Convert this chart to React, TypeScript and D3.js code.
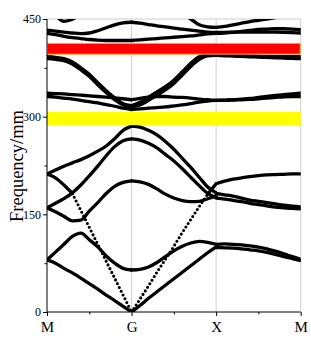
import React, { useEffect, useRef } from "react";
import * as d3 from "d3";

const W = 311;
const H = 343;
const serif = "'Liberation Serif', 'Times New Roman', serif";

// high-symmetry points and axis ticks
const pathLabels = ["M", "G", "X", "M"];
const pathTicks = [0, 1, 2, 3];
const pathMinorTicks = [0.5, 1.5, 2.5];
const yTicks = [0, 150, 300, 450];
const yMinorTicks = [75, 225, 375];

// reduced wave vector along each segment
const kSteps = [0, 0.1, 0.2, 0.3, 0.4, 0.5, 0.6, 0.7, 0.8, 0.9, 1];

type Band = (number | null)[];
const _ = null;

// M -> G
const solidMG: Band[] = [
  [80, 75, 67, 60, 52, 43.5, 35, 26, 17.5, 8.8, 0],
  [80, 92, 104, 116, 121, 111, 100, 86, 75, 67, 64.5],
  [160, 154, 147, 140, 141, 155, 168, 182, 193, 199, 201.5],
  [160, 167, 174, 183, 195, 209, 224, 240, 254, 263, 266],
  [212, 218, 224, 229, 234, 240, 247, 255, 266, 279, 285.5],
  [212, 206, 195, 182, _, _, _, _, _, _, _],
  [336, 335.5, 335, 334, 333, 332, 331, 330, 329, 327.5, 326],
  [331, 330, 328.5, 327, 325, 323, 321, 318.5, 316, 313, 311],
  [392, 391, 389, 384, 375, 365, 352, 340, 329, 320, 317],
  [389, 388, 386, 381, 372, 362, 349, 337, 326, 318, 315],
  [433, 431.5, 430, 428.5, 427.5, 428.5, 432, 436.5, 441, 444, 445],
  [428, 426, 423.5, 421.5, 420, 418.5, 417.5, 417, 417, 417, 417],
  [_, 456, 446.5, 449.5, 458, _, _, _, _, _, _],
];
const dottedMG: Band[] = [
  [_, _, _, 182, 156, 130, 104, 78, 52, 26, 0],
];

// G -> X
const solidGX: Band[] = [
  [0, 10, 21, 31, 41, 51, 61, 71, 81, 91, 100],
  [64.5, 65.5, 69, 76, 85, 94, 101, 106, 108.5, 107, 104],
  [_, _, _, _, _, _, _, _, _, 181, 197],
  [201.5, 200, 196, 189, 181, 175, 171, 169.5, 170, 174, 178],
  [285.5, 284, 279, 272, 262, 250, 236, 222, 207, 192, 183],
  [266, 264, 259, 252, 242, 232, 220, 207, 194, 182, 176],
  [326, 328, 330, 331, 331, 330, 329.5, 328.5, 327, 326, 325],
  [311, 312, 313, 314, 315, 316.5, 318, 320, 322.5, 324, 325],
  [317, 322, 330, 338, 346, 356, 369, 382, 392, 395, 395],
  [315, 318, 325, 333, 341, 351, 364, 377, 388, 393.5, 394],
  [445, 443.5, 441.5, 439.5, 438, 436, 434.5, 433, 431.5, 430, 429.5],
  [417, 418, 419, 420, 421, 422, 423, 424, 425.5, 427, 428],
  [_, _, _, _, _, 466, 458, 450, 441, 438, 437],
];
const dottedGX: Band[] = [
  [0, 20, 40, 61, 81, 101, 122, 142, 162, 181, _],
];

// X -> M
const solidXM: Band[] = [
  [104, 104.5, 104, 103, 101.5, 99.5, 97, 93.5, 89.5, 85, 81],
  [99, 98.5, 98, 97, 95.5, 94, 91.5, 88.5, 85, 82, 79],
  [197, 201, 204, 206, 208, 209.5, 210.5, 211, 211.5, 212, 212],
  [182, 180, 178, 175, 172, 170, 168, 166, 164, 162.5, 161.5],
  [175, 173.5, 171.5, 169.5, 167, 165, 163, 161, 160, 159, 158.5],
  [325, 325.5, 326, 327, 328, 329.5, 331, 332.5, 334, 335, 336],
  [325, 325, 325.5, 326, 326.5, 327.5, 328.5, 329.5, 330.5, 331, 331],
  [395, 395, 394.5, 394, 393.5, 393, 392.5, 392, 392, 392, 392],
  [394, 393.5, 393, 392.5, 392, 391.5, 391, 390.5, 390, 389.5, 389],
  [429.5, 429.6, 429.8, 430, 430, 430, 430, 429.8, 429.5, 429, 428.5],
  [428, 428.5, 429.5, 431, 432.5, 434, 434.5, 435, 435, 434.5, 433.5],
  [437, 438.5, 441, 443.5, 446, 448, 450, 452, 454, 456, 458],
];

const segments = [
  { start: 0, solid: solidMG, dotted: dottedMG },
  { start: 1, solid: solidGX, dotted: dottedGX },
  { start: 2, solid: solidXM, dotted: [] as Band[] },
];

// band gaps marked on the chart
const redGap = [396, 412.5];
const yellowGap = [287, 307.5];

const App = () => {
  const ref = useRef<SVGSVGElement>(null);

  useEffect(() => {
    const svg = d3.select(ref.current);
    svg.selectAll("*").remove();

    const margin = { top: 19, left: 47, bottom: 31, right: 10.3 };
    const iw = W - margin.left - margin.right;
    const ih = H - margin.top - margin.bottom;

    const x = d3.scaleLinear().domain([0, 3]).range([0, iw]);
    const y = d3.scaleLinear().domain([0, 450]).range([ih, 0]);

    const g = svg.append("g").attr("transform", `translate(${margin.left},${margin.top})`);

    svg.append("defs").append("clipPath").attr("id", "plot-clip")
      .append("rect").attr("width", iw).attr("height", ih);

    // frame: light top / right and gridlines at G, X
    const grey = "#cfcfcf";
    g.append("line").attr("x1", 0).attr("x2", iw).attr("y1", 0).attr("y2", 0).attr("stroke", grey);
    g.append("line").attr("x1", iw).attr("x2", iw).attr("y1", 0).attr("y2", ih).attr("stroke", grey);
    g.selectAll(".vgrid").data([1, 2]).enter().append("line")
      .attr("x1", d => x(d)).attr("x2", d => x(d))
      .attr("y1", 0).attr("y2", ih).attr("stroke", grey);

    // bands
    const line = d3.line<[number, number | null]>()
      .defined(d => d[1] != null)
      .x(d => x(d[0]))
      .y(d => y(d[1] as number))
      .curve(d3.curveMonotoneX);

    const bands = g.append("g").attr("clip-path", "url(#plot-clip)");
    segments.forEach(seg => {
      const toPts = (b: Band) => kSteps.map((t, i) => [seg.start + t, b[i]] as [number, number | null]);
      seg.solid.forEach(b => {
        bands.append("path").attr("d", line(toPts(b)))
          .attr("fill", "none").attr("stroke", "#000").attr("stroke-width", 3.3)
          .attr("stroke-linecap", "round").attr("stroke-linejoin", "round");
      });
      seg.dotted.forEach(b => {
        bands.append("path").attr("d", line(toPts(b)))
          .attr("fill", "none").attr("stroke", "#000").attr("stroke-width", 3.1)
          .attr("stroke-linecap", "round").attr("stroke-dasharray", "0 4.2");
      });
    });

    // gaps
    g.append("rect").attr("x", 0).attr("width", iw)
      .attr("y", y(yellowGap[1])).attr("height", y(yellowGap[0]) - y(yellowGap[1]))
      .attr("fill", "#ffff00");
    g.append("rect").attr("x", 0.5).attr("width", iw - 1)
      .attr("y", y(redGap[1])).attr("height", y(redGap[0]) - y(redGap[1]))
      .attr("fill", "#ff0000").attr("stroke", "#f5a623").attr("stroke-width", 1);

    // axes
    const yAxis = g.append("g").call(
      d3.axisLeft(y).tickValues(yTicks).tickSize(4).tickPadding(2).tickFormat(d3.format("d"))
    );
    g.append("g").call(d3.axisLeft(y).tickValues(yMinorTicks).tickSize(2.5).tickFormat(() => ""));
    const xAxis = g.append("g").attr("transform", `translate(0,${ih})`).call(
      d3.axisBottom(x).tickValues(pathTicks).tickSize(4).tickPadding(5)
        .tickFormat((_d, i) => pathLabels[i])
    );
    g.append("g").attr("transform", `translate(0,${ih})`).call(
      d3.axisBottom(x).tickValues(pathMinorTicks).tickSize(2.5).tickFormat(() => "")
    );
    g.selectAll(".domain").remove();
    g.selectAll(".tick line").attr("stroke", "#000");
    yAxis.selectAll("text").attr("font-family", serif).attr("font-size", 12).attr("fill", "#000");
    xAxis.selectAll("text").attr("font-family", serif).attr("font-size", 15).attr("fill", "#000");

    g.append("line").attr("x1", 0).attr("x2", 0).attr("y1", 0).attr("y2", ih).attr("stroke", "#000");
    g.append("line").attr("x1", 0).attr("x2", iw).attr("y1", ih).attr("y2", ih).attr("stroke", "#000");

    svg.append("text")
      .attr("transform", `translate(23,166) rotate(-90)`)
      .attr("text-anchor", "middle")
      .attr("font-family", serif).attr("font-size", 18.5)
      .text("Frequency/mm");
  });

  return (
    <svg ref={ref} width={W} height={H}
      style={{ position: "absolute", left: 0, top: 0, background: "#fff" }} />
  );
};

export default App;
